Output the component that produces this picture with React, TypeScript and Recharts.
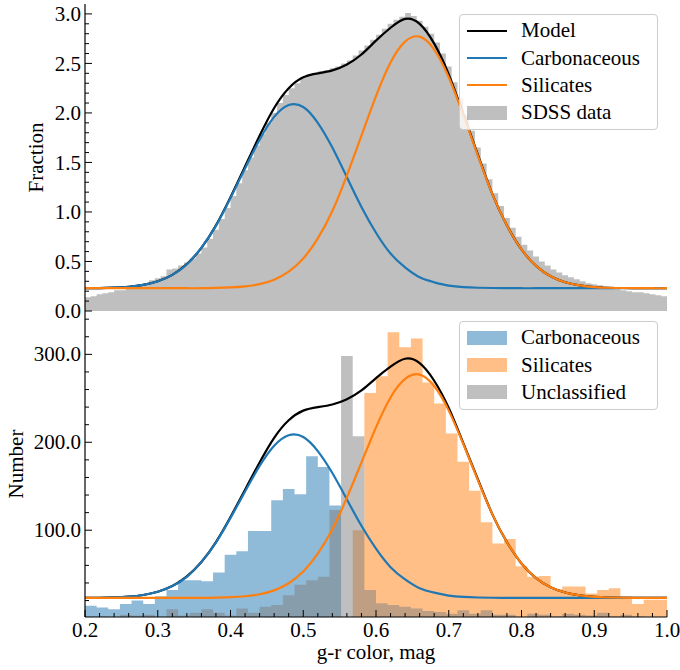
import { Area, ComposedChart, Legend, Line, XAxis, YAxis } from "recharts";

const FONT = '"Liberation Serif", "Times New Roman", serif';
const FONT_SIZE = 21;
const BLUE = "#1f77b4";
const ORANGE = "#ff7f0e";
const GREY = "#808080";
const FRAME = { stroke: "#000", strokeWidth: 1.2 };

// fitted curves, sampled every 0.02 mag from g-r = 0.2
const CURVE_START = 0.2;
const CURVE_STEP = 0.02;

const FRACTION_MODEL = [
  0.23, 0.231, 0.236, 0.245, 0.263, 0.3, 0.365, 0.474, 0.638, 0.865,
  1.15, 1.46, 1.77, 2.05, 2.25, 2.36, 2.4, 2.43, 2.49, 2.59,
  2.73, 2.86, 2.95, 2.9, 2.7, 2.39, 1.99, 1.58, 1.18, 0.864,
  0.622, 0.456, 0.351, 0.291, 0.258, 0.242, 0.235, 0.232, 0.231, 0.23,
  0.23,
];
const FRACTION_CARB = [
  0.23, 0.231, 0.236, 0.245, 0.263, 0.3, 0.365, 0.47, 0.64, 0.86,
  1.14, 1.44, 1.73, 1.96, 2.08, 2.06, 1.9, 1.65, 1.35, 1.05,
  0.79, 0.58, 0.44, 0.34, 0.29, 0.256, 0.241, 0.235, 0.232, 0.231,
  0.23, 0.23, 0.23, 0.23, 0.23, 0.23, 0.23, 0.23, 0.23, 0.23,
  0.23,
];
const FRACTION_SIL = [
  0.23, 0.23, 0.23, 0.23, 0.23, 0.23, 0.23, 0.23, 0.23, 0.233,
  0.238, 0.249, 0.272, 0.316, 0.397, 0.53, 0.733, 1.01, 1.37, 1.77,
  2.17, 2.51, 2.72, 2.77, 2.64, 2.36, 1.98, 1.57, 1.18, 0.863,
  0.622, 0.456, 0.351, 0.291, 0.258, 0.242, 0.235, 0.232, 0.231, 0.23,
  0.23,
];

const NUMBER_MODEL = [
  23, 23.1, 23.6, 24.5, 26.3, 30, 36.5, 47.4, 63.8, 86.5,
  115, 146, 177, 205, 225, 236, 240, 243, 249, 259,
  273, 286, 295, 290, 270, 239, 199, 158, 118, 86.4,
  62.2, 45.6, 35.1, 29.1, 25.8, 24.2, 23.5, 23.2, 23.1, 23,
  23,
];
const NUMBER_CARB = [
  23, 23.1, 23.6, 24.5, 26.3, 30, 36.5, 47, 64, 86,
  114, 144, 173, 196, 208, 206, 190, 165, 135, 105,
  79, 58, 44, 34, 29, 25.6, 24.1, 23.5, 23.2, 23.1,
  23, 23, 23, 23, 23, 23, 23, 23, 23, 23,
  23,
];
const NUMBER_SIL = [
  23, 23, 23, 23, 23, 23, 23, 23, 23, 23.3,
  23.8, 24.9, 27.2, 31.6, 39.7, 53, 73.3, 101, 137, 177,
  217, 251, 272, 277, 264, 236, 198, 157, 118, 86.3,
  62.2, 45.6, 35.1, 29.1, 25.8, 24.2, 23.5, 23.2, 23.1, 23,
  23,
];

// SDSS colour distribution, 0.008 mag bins from 0.2
const HIST_START = 0.2;
const SDSS_BIN = 0.008;
const SDSS_FRACTION = [
  0.14, 0.15, 0.17, 0.18, 0.19, 0.21, 0.21, 0.23, 0.24, 0.27,
  0.28, 0.31, 0.33, 0.35, 0.42, 0.43, 0.46, 0.49, 0.53, 0.58,
  0.64, 0.73, 0.82, 0.93, 1.04, 1.16, 1.29, 1.42, 1.55, 1.67,
  1.79, 1.9, 2.0, 2.1, 2.18, 2.25, 2.3, 2.36, 2.39, 2.4,
  2.42, 2.43, 2.45, 2.47, 2.5, 2.53, 2.58, 2.63, 2.68, 2.74,
  2.79, 2.85, 2.9, 2.94, 2.97, 3.01, 2.98, 2.93, 2.87, 2.8,
  2.71, 2.6, 2.47, 2.31, 2.15, 1.98, 1.82, 1.65, 1.49, 1.33,
  1.19, 1.06, 0.94, 0.84, 0.75, 0.67, 0.61, 0.55, 0.5, 0.46,
  0.42, 0.39, 0.36, 0.34, 0.32, 0.3, 0.28, 0.27, 0.26, 0.24,
  0.23, 0.22, 0.21, 0.2, 0.19, 0.19, 0.18, 0.17, 0.16, 0.15,
];

// classified objects, 0.016 mag bins from 0.2
const TYPE_BIN = 0.016;
const CARB_COUNTS = [
  14, 12, 10, 16, 20, 16, 25, 32, 43, 43,
  42, 52, 72, 76, 99, 99, 134, 147, 141, 184,
  172, 128, 0, 0, 0, 0, 0, 0, 0, 0,
  0, 0, 0, 0, 0, 0, 0, 0, 0, 0,
  0, 0, 0, 0, 0, 0, 0, 0, 0, 0,
];
const SIL_COUNTS = [
  0, 0, 0, 0, 0, 0, 0, 0, 0, 0,
  0, 0, 0, 0, 0, 0, 0, 0, 0, 0,
  0, 0, 0, 100, 256, 275, 325, 308, 318, 268,
  244, 210, 178, 145, 109, 85, 90, 59, 47, 48,
  33, 36, 36, 28, 32, 34, 25, 16, 21, 21,
];
const UNCLASS_COUNTS = [
  2, 2, 0, 4, 3, 4, 1, 10, 3, 6,
  10, 6, 3, 11, 6, 13, 15, 26, 38, 43,
  47, 123, 298, 207, 32, 17, 15, 13, 11, 8,
  7, 5, 9, 5, 9, 4, 4, 1, 5, 4,
  2, 5, 4, 3, 6, 2, 4, 2, 0, 0,
];

const COLOR_TICKS = [0.2, 0.3, 0.4, 0.5, 0.6, 0.7, 0.8, 0.9, 1.0];
const FRACTION_TICKS = [0, 0.5, 1.0, 1.5, 2.0, 2.5, 3.0];
const NUMBER_TICKS = [100, 200, 300];

type Row = { x: number; v: number };

const curveRows = (values: number[]): Row[] =>
  values.map((v, i) => ({ x: CURVE_START + i * CURVE_STEP, v }));

// bin left edges plus the closing edge, for step areas
const histRows = (values: number[], width: number): Row[] => {
  const rows = values.map((v, i) => ({ x: HIST_START + i * width, v }));
  rows.push({ x: HIST_START + values.length * width, v: values[values.length - 1] });
  return rows;
};

const tickRange = (lo: number, hi: number, step: number) => {
  const out: number[] = [];
  const n = Math.round((hi - lo) / step);
  for (let i = 0; i <= n; i++) out.push(Math.round((lo + i * step) * 1000) / 1000);
  return out;
};

const COLOR_ALL = tickRange(0.2, 1.0, 0.02);
const FRACTION_ALL = tickRange(0, 3.0, 0.1);
const NUMBER_ALL = tickRange(20, 340, 20);

const MAJOR_LEN = 7;
const MINOR_LEN = 4;

// inward tick marks; (x, y) is the point on the axis line
function AxisTick(props: any) {
  const { x, y, payload, side, majors, fmt } = props;
  const value: number = payload.value;
  const major = (majors as number[]).some((m) => Math.abs(m - value) < 1e-6);
  const len = major ? MAJOR_LEN : MINOR_LEN;
  const text = major && fmt ? fmt(value) : null;
  const ink = { stroke: "#000", strokeWidth: 1 };
  const txt = { fontFamily: FONT, fontSize: FONT_SIZE, fill: "#000" };
  if (side === "left") {
    return (
      <g>
        <line x1={x} x2={x + len} y1={y} y2={y} {...ink} />
        {text && (
          <text x={x - 4} y={y} dy="0.34em" textAnchor="end" {...txt}>
            {text}
          </text>
        )}
      </g>
    );
  }
  if (side === "right") {
    return <line x1={x} x2={x - len} y1={y} y2={y} {...ink} />;
  }
  if (side === "top") {
    return <line x1={x} x2={x} y1={y} y2={y + len} {...ink} />;
  }
  return (
    <g>
      <line x1={x} x2={x} y1={y} y2={y - len} {...ink} />
      {text && (
        <text x={x} y={y + 20} textAnchor="middle" {...txt}>
          {text}
        </text>
      )}
    </g>
  );
}

function YTitle(props: any) {
  const { viewBox, caption, centerX } = props;
  const cy = viewBox.y + viewBox.height / 2;
  return (
    <text
      x={centerX}
      y={cy}
      transform={`rotate(-90 ${centerX} ${cy})`}
      textAnchor="middle"
      dominantBaseline="central"
      fontFamily={FONT}
      fontSize={FONT_SIZE}
      fill="#000"
    >
      {caption}
    </text>
  );
}

function XTitle(props: any) {
  const { viewBox, caption } = props;
  return (
    <text
      x={viewBox.x + viewBox.width / 2}
      y={viewBox.y + 42}
      textAnchor="middle"
      fontFamily={FONT}
      fontSize={FONT_SIZE}
      fill="#000"
    >
      {caption}
    </text>
  );
}

type LegendItem = { name: string; color: string; kind: "line" | "patch" };

const FRACTION_LEGEND: LegendItem[] = [
  { name: "Model", color: "#000", kind: "line" },
  { name: "Carbonaceous", color: BLUE, kind: "line" },
  { name: "Silicates", color: ORANGE, kind: "line" },
  { name: "SDSS data", color: GREY, kind: "patch" },
];
const NUMBER_LEGEND: LegendItem[] = [
  { name: "Carbonaceous", color: BLUE, kind: "patch" },
  { name: "Silicates", color: ORANGE, kind: "patch" },
  { name: "Unclassified", color: GREY, kind: "patch" },
];

function LegendBox({ items, boxH }: { items: LegendItem[]; boxH: number }) {
  return (
    <div
      style={{
        width: 199,
        height: boxH,
        boxSizing: "border-box",
        border: "1px solid #cccccc",
        borderRadius: 4,
        background: "rgba(255,255,255,0.8)",
        padding: "2px 0 0 7px",
        fontFamily: FONT,
        fontSize: FONT_SIZE,
        color: "#000",
      }}
    >
      {items.map((it) => (
        <div key={it.name} style={{ display: "flex", alignItems: "center", height: 27.4 }}>
          <svg width={40} height={14} style={{ marginRight: 14, flex: "none" }}>
            {it.kind === "line" ? (
              <line x1={0} x2={40} y1={7} y2={7} stroke={it.color} strokeWidth={2.2} />
            ) : (
              <rect x={0} y={0} width={40} height={14} fill={it.color} fillOpacity={0.5} />
            )}
          </svg>
          <span style={{ whiteSpace: "nowrap" }}>{it.name}</span>
        </div>
      ))}
    </div>
  );
}

const sdssRows = histRows(SDSS_FRACTION, SDSS_BIN);
const carbRows = histRows(CARB_COUNTS, TYPE_BIN);
const silRows = histRows(SIL_COUNTS, TYPE_BIN);
const unclassRows = histRows(UNCLASS_COUNTS, TYPE_BIN);

const fmt1 = (v: number) => v.toFixed(1);

export default function App() {
  return (
    <div
      style={{
        position: "absolute",
        left: 0,
        top: 0,
        width: 680,
        height: 670,
        background: "#fff",
        fontFamily: FONT,
      }}
    >
      {/* upper panel: normalised SDSS distribution (svg runs past the plot so "0.0" is not cut) */}
      <div style={{ position: "absolute", left: 0, top: 0 }}>
        <ComposedChart width={680} height={330} margin={{ top: 4, right: 13, bottom: 19, left: 0 }}>
          <XAxis
            type="number"
            dataKey="x"
            domain={[0.2, 1.0]}
            allowDataOverflow
            height={0}
            tick={false}
            tickLine={false}
            axisLine={FRAME}
          />
          <XAxis
            xAxisId="top"
            orientation="top"
            type="number"
            dataKey="x"
            domain={[0.2, 1.0]}
            allowDataOverflow
            height={0}
            tick={false}
            tickLine={false}
            axisLine={FRAME}
          />
          <YAxis
            type="number"
            domain={[0, 3.1]}
            allowDataOverflow
            width={85}
            ticks={FRACTION_ALL}
            interval={0}
            tickSize={0}
            tickMargin={0}
            tickLine={false}
            axisLine={FRAME}
            tick={<AxisTick side="left" majors={FRACTION_TICKS} fmt={fmt1} />}
            label={<YTitle caption="Fraction" centerX={36} />}
          />
          <YAxis
            yAxisId="right"
            orientation="right"
            type="number"
            domain={[0, 3.1]}
            allowDataOverflow
            width={0}
            ticks={FRACTION_ALL}
            interval={0}
            tickSize={0}
            tickMargin={0}
            tickLine={false}
            axisLine={FRAME}
            tick={<AxisTick side="right" majors={FRACTION_TICKS} />}
          />
          <Legend
            layout="vertical"
            align="center"
            verticalAlign="middle"
            wrapperStyle={{ left: 459, top: 14, width: 199 }}
            content={() => <LegendBox items={FRACTION_LEGEND} boxH={116} />}
          />
          <Area
            data={sdssRows}
            dataKey="v"
            type="stepAfter"
            fill={GREY}
            fillOpacity={0.5}
            stroke="none"
            isAnimationActive={false}
          />
          <Line
            data={curveRows(FRACTION_MODEL)}
            dataKey="v"
            type="natural"
            stroke="#000"
            strokeWidth={2.2}
            dot={false}
            activeDot={false}
            isAnimationActive={false}
          />
          <Line
            data={curveRows(FRACTION_CARB)}
            dataKey="v"
            type="natural"
            stroke={BLUE}
            strokeWidth={2.2}
            dot={false}
            activeDot={false}
            isAnimationActive={false}
          />
          <Line
            data={curveRows(FRACTION_SIL)}
            dataKey="v"
            type="natural"
            stroke={ORANGE}
            strokeWidth={2.2}
            dot={false}
            activeDot={false}
            isAnimationActive={false}
          />
        </ComposedChart>
      </div>

      {/* lower panel: counts per taxonomic class */}
      <div style={{ position: "absolute", left: 0, top: 311 }}>
        <ComposedChart width={680} height={359} margin={{ top: 0, right: 13, bottom: 0, left: 0 }}>
          <XAxis
            type="number"
            dataKey="x"
            domain={[0.2, 1.0]}
            allowDataOverflow
            height={53}
            ticks={COLOR_ALL}
            interval={0}
            tickSize={0}
            tickMargin={0}
            tickLine={false}
            axisLine={FRAME}
            tick={<AxisTick side="bottom" majors={COLOR_TICKS} fmt={fmt1} />}
            label={<XTitle caption="g-r color, mag" />}
          />
          <XAxis
            xAxisId="top"
            orientation="top"
            type="number"
            dataKey="x"
            domain={[0.2, 1.0]}
            allowDataOverflow
            height={0}
            ticks={COLOR_ALL}
            interval={0}
            tickSize={0}
            tickMargin={0}
            tickLine={false}
            axisLine={FRAME}
            tick={<AxisTick side="top" majors={COLOR_TICKS} />}
          />
          <YAxis
            type="number"
            domain={[1.3, 349.3]}
            allowDataOverflow
            width={85}
            ticks={NUMBER_ALL}
            interval={0}
            tickSize={0}
            tickMargin={0}
            tickLine={false}
            axisLine={FRAME}
            tick={<AxisTick side="left" majors={NUMBER_TICKS} fmt={fmt1} />}
            label={<YTitle caption="Number" centerX={16} />}
          />
          <YAxis
            yAxisId="right"
            orientation="right"
            type="number"
            domain={[1.3, 349.3]}
            allowDataOverflow
            width={0}
            ticks={NUMBER_ALL}
            interval={0}
            tickSize={0}
            tickMargin={0}
            tickLine={false}
            axisLine={FRAME}
            tick={<AxisTick side="right" majors={NUMBER_TICKS} />}
          />
          <Legend
            layout="vertical"
            align="center"
            verticalAlign="middle"
            wrapperStyle={{ left: 459, top: 10, width: 199 }}
            content={() => <LegendBox items={NUMBER_LEGEND} boxH={89} />}
          />
          <Area
            data={carbRows}
            dataKey="v"
            type="stepAfter"
            fill={BLUE}
            fillOpacity={0.5}
            stroke="none"
            isAnimationActive={false}
          />
          <Area
            data={silRows}
            dataKey="v"
            type="stepAfter"
            fill={ORANGE}
            fillOpacity={0.5}
            stroke="none"
            isAnimationActive={false}
          />
          <Area
            data={unclassRows}
            dataKey="v"
            type="stepAfter"
            fill={GREY}
            fillOpacity={0.5}
            stroke="none"
            isAnimationActive={false}
          />
          <Line
            data={curveRows(NUMBER_MODEL)}
            dataKey="v"
            type="natural"
            stroke="#000"
            strokeWidth={2.2}
            dot={false}
            activeDot={false}
            isAnimationActive={false}
          />
          <Line
            data={curveRows(NUMBER_CARB)}
            dataKey="v"
            type="natural"
            stroke={BLUE}
            strokeWidth={2.2}
            dot={false}
            activeDot={false}
            isAnimationActive={false}
          />
          <Line
            data={curveRows(NUMBER_SIL)}
            dataKey="v"
            type="natural"
            stroke={ORANGE}
            strokeWidth={2.2}
            dot={false}
            activeDot={false}
            isAnimationActive={false}
          />
        </ComposedChart>
      </div>
    </div>
  );
}
